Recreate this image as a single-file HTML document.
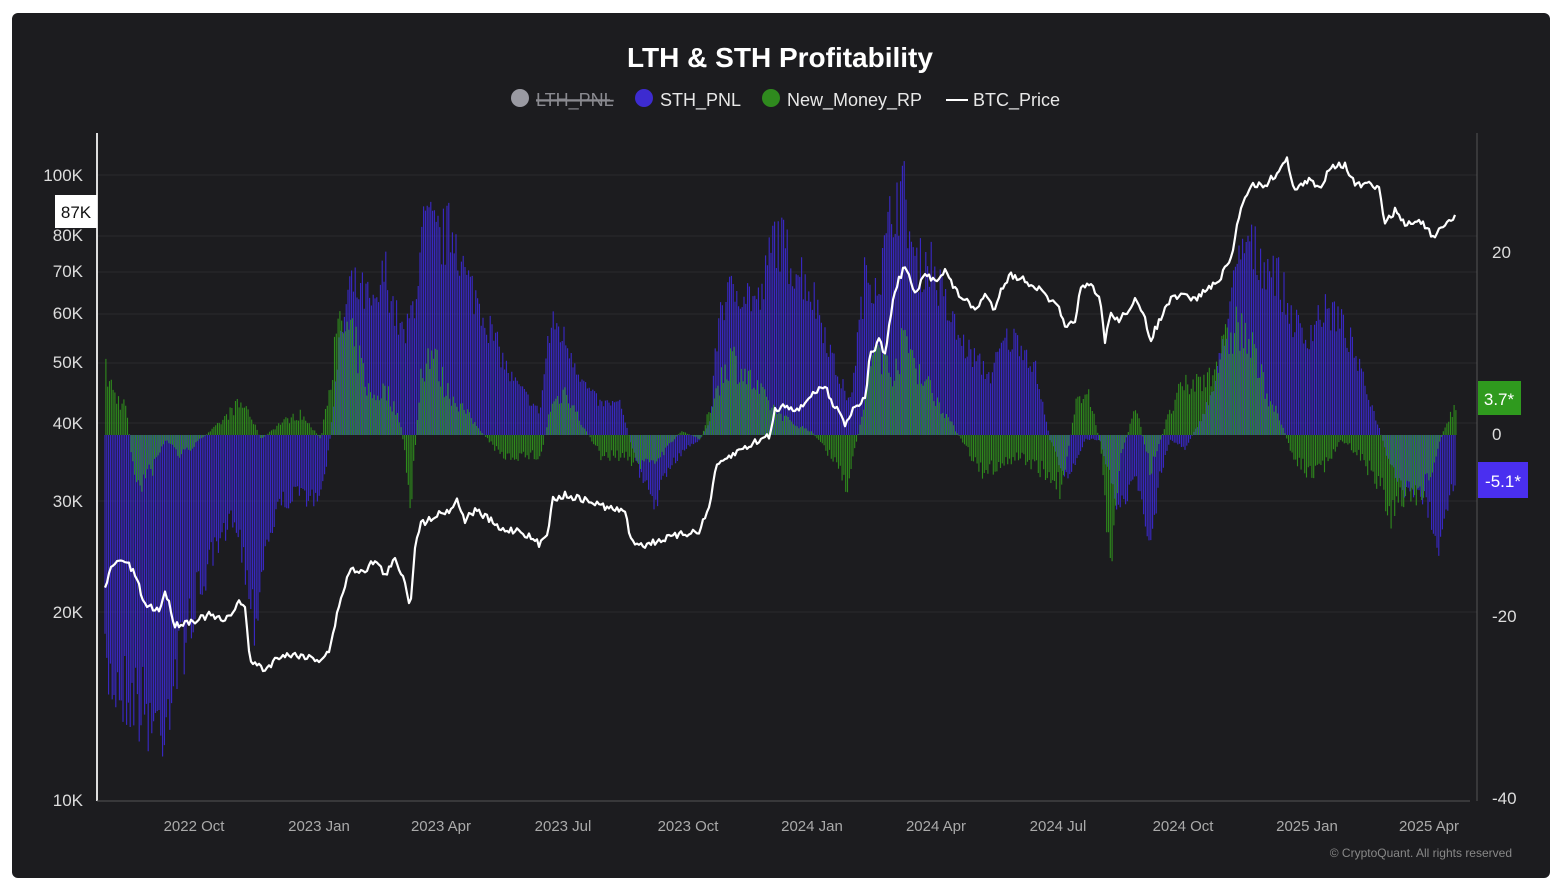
<!DOCTYPE html>
<html><head><meta charset="utf-8">
<style>
html,body{margin:0;padding:0;background:#fff;}
body{width:1568px;height:885px;position:relative;overflow:hidden;font-family:"Liberation Sans",sans-serif;}
#panel{position:absolute;left:12px;top:13px;width:1538px;height:865px;background:#1c1c1f;border-radius:6px;}
svg{position:absolute;left:0;top:0;}
</style></head><body>
<div id="panel"></div>
<svg id="s" width="1568" height="885" xmlns="http://www.w3.org/2000/svg" font-family="Liberation Sans, sans-serif">
<text x="780" y="67" fill="#fff" font-size="28" font-weight="bold" text-anchor="middle">LTH &amp; STH Profitability</text>
<circle cx="520" cy="98" r="9" fill="#9a9aa2"/>
<text x="536" y="106" fill="#8a8a90" font-size="18" text-decoration="line-through">LTH_PNL</text>
<line x1="536" y1="100" x2="610" y2="100" stroke="#8a8a90" stroke-width="1.5"/>
<circle cx="644" cy="98" r="9" fill="#3d2bd0"/>
<text x="660" y="106" fill="#e8e8e8" font-size="18">STH_PNL</text>
<circle cx="771" cy="98" r="9" fill="#2f8a1e"/>
<text x="787" y="106" fill="#e8e8e8" font-size="18">New_Money_RP</text>
<line x1="946" y1="100" x2="968" y2="100" stroke="#fff" stroke-width="2"/>
<text x="973" y="106" fill="#e8e8e8" font-size="18">BTC_Price</text>
<g id="grid"></g>
<g id="bars"></g>
<polyline id="price" fill="none" stroke="#fff" stroke-width="2.2" stroke-linejoin="round"/>
<line x1="97" y1="133" x2="97" y2="801" stroke="#ddd" stroke-width="2"/>
<line x1="1477" y1="133" x2="1477" y2="801" stroke="#555" stroke-width="1"/>
<line x1="97" y1="801" x2="1470" y2="801" stroke="#555" stroke-width="1"/>
<g fill="#ddd" font-size="17" text-anchor="end">
<text x="83" y="181">100K</text><text x="83" y="241">80K</text><text x="83" y="277">70K</text>
<text x="83" y="319">60K</text><text x="83" y="368">50K</text><text x="83" y="429">40K</text>
<text x="83" y="507">30K</text><text x="83" y="618">20K</text><text x="83" y="806">10K</text>
</g>
<g fill="#ddd" font-size="17" text-anchor="start">
<text x="1492" y="258">20</text><text x="1492" y="440">0</text>
<text x="1492" y="622">-20</text><text x="1492" y="804">-40</text>
</g>
<g fill="#aaa" font-size="15" text-anchor="middle">
<text x="194" y="831">2022 Oct</text><text x="319" y="831">2023 Jan</text><text x="441" y="831">2023 Apr</text>
<text x="563" y="831">2023 Jul</text><text x="688" y="831">2023 Oct</text><text x="812" y="831">2024 Jan</text>
<text x="936" y="831">2024 Apr</text><text x="1058" y="831">2024 Jul</text><text x="1183" y="831">2024 Oct</text>
<text x="1307" y="831">2025 Jan</text><text x="1429" y="831">2025 Apr</text>
</g>
<text x="1512" y="857" fill="#888" font-size="12" text-anchor="end">© CryptoQuant. All rights reserved</text>
<rect x="55" y="195" width="42" height="33" fill="#fff"/>
<text x="76" y="218" fill="#111" font-size="17" text-anchor="middle">87K</text>
<rect x="1478" y="381" width="43" height="34" fill="#2f9a1e"/>
<text x="1499" y="405" fill="#fff" font-size="17" text-anchor="middle">3.7*</text>
<rect x="1478" y="462" width="50" height="36" fill="#4a2ff0"/>
<text x="1503" y="487" fill="#fff" font-size="17" text-anchor="middle">-5.1*</text>
</svg>
<script>
var NS="http://www.w3.org/2000/svg";
function interp(k,x){for(var i=0;i<k.length-1;i++){if(x>=k[i][0]&&x<=k[i+1][0]){var t=(x-k[i][0])/(k[i+1][0]-k[i][0]);return k[i][1]+t*(k[i+1][1]-k[i][1]);}}return x<k[0][0]?k[0][1]:k[k.length-1][1];}
function P(a){var r=[];for(var i=0;i<a.length;i+=2)r.push([a[i],a[i+1]]);return r;}
var seed=7;function rnd(){seed=(seed*16807)%2147483647;return seed/2147483647;}
var g=document.getElementById('grid');
[175,236,272,314,363,423,501,612].forEach(function(y){var l=document.createElementNS(NS,'line');l.setAttribute('x1',97);l.setAttribute('x2',1477);l.setAttribute('y1',y);l.setAttribute('y2',y);l.setAttribute('stroke','#2a2a2e');g.appendChild(l);});
var blue=P([105,700,130,720,160,760,175,700,190,640,205,590,220,560,235,520,245,580,255,640,265,560,280,510,300,500,320,510,330,440,340,330,350,270,365,280,375,300,385,250,395,300,405,330,415,280,425,200,440,220,455,205,465,260,480,290,495,330,510,370,525,390,540,410,548,330,555,310,570,340,585,380,600,400,620,400,630,440,640,480,655,510,670,470,685,450,700,440,710,420,720,290,740,270,760,290,775,210,790,240,805,260,820,300,835,360,850,400,865,260,880,260,895,170,905,170,915,250,930,240,945,290,960,330,975,350,990,370,1005,330,1020,330,1035,360,1050,440,1065,480,1075,470,1085,440,1100,440,1110,480,1120,520,1135,480,1150,560,1160,480,1170,440,1185,450,1200,420,1215,380,1230,290,1245,220,1260,240,1275,250,1290,300,1305,330,1320,300,1335,300,1350,330,1365,380,1380,430,1390,470,1405,500,1420,500,1430,520,1440,560,1450,500,1456,480]);
var green=P([105,360,115,390,125,400,135,500,150,480,165,440,180,460,200,440,220,420,235,400,245,400,260,440,280,420,300,410,320,440,330,360,340,300,355,330,370,390,385,380,400,420,410,520,420,360,430,330,445,380,460,400,480,430,500,460,520,460,540,460,550,400,565,380,580,420,600,460,620,460,640,470,660,460,680,430,700,440,715,380,730,340,750,370,770,400,790,420,810,430,830,460,845,500,860,420,875,320,890,360,905,320,920,360,940,400,960,440,980,480,1000,470,1020,460,1045,480,1060,500,1075,400,1085,370,1100,450,1108,600,1120,460,1135,400,1150,480,1165,420,1180,380,1200,370,1220,340,1235,300,1250,330,1265,380,1280,420,1295,470,1310,480,1325,470,1340,440,1360,460,1380,500,1390,540,1405,500,1420,510,1435,460,1445,420,1456,400]);
var b=document.getElementById('bars'),Z=435,s1='',s2='';
for(var x=105;x<=1456;x+=1.8){
 var y=interp(blue,x);y=Z+(y-Z)*(0.75+0.3*rnd());
 s1+='M'+x.toFixed(1)+' '+Z+'V'+y.toFixed(1);
 var y2=interp(green,x);y2=Z+(y2-Z)*(0.6+0.45*rnd());
 s2+='M'+(x+0.9).toFixed(1)+' '+Z+'V'+y2.toFixed(1);
}
function path(d,c){var p=document.createElementNS(NS,'path');p.setAttribute('d',d);p.setAttribute('stroke',c);p.setAttribute('stroke-width','1.1');b.appendChild(p);}
path(s1,'#3a28c8');path(s2,'#2e8a1c');
var pr=P([105,590,112,565,125,560,135,575,145,605,160,610,165,590,175,625,195,620,210,615,225,622,240,600,245,610,250,660,265,670,280,655,300,655,320,660,330,650,340,600,350,570,365,570,375,560,385,575,395,560,405,580,410,610,415,545,420,525,435,515,450,510,457,500,465,520,475,510,490,520,500,530,520,530,540,545,548,530,552,500,565,495,585,500,600,505,615,510,625,510,630,540,645,545,660,540,680,535,700,530,710,505,715,470,725,460,740,450,760,440,770,435,775,410,785,405,800,410,810,395,820,390,825,385,830,400,840,410,845,425,855,405,865,400,870,355,880,340,885,355,890,320,895,290,905,265,915,295,925,275,935,280,945,270,955,290,965,300,975,310,985,295,995,310,1000,290,1010,275,1025,280,1040,290,1050,300,1060,310,1065,330,1075,320,1080,290,1090,285,1100,300,1105,340,1110,315,1120,320,1135,300,1145,320,1150,340,1160,320,1170,300,1185,295,1195,300,1205,290,1215,285,1225,270,1232,255,1240,210,1250,185,1265,185,1275,175,1287,160,1295,190,1310,180,1320,190,1330,165,1345,165,1355,185,1370,185,1380,190,1385,225,1395,210,1405,225,1420,220,1435,240,1440,230,1456,215]);
var pts='';for(var x=105;x<=1456;x+=2){pts+=x+','+(interp(pr,x)+(rnd()-0.5)*7).toFixed(1)+' ';}
document.getElementById('price').setAttribute('points',pts);
</script>
</body></html>
